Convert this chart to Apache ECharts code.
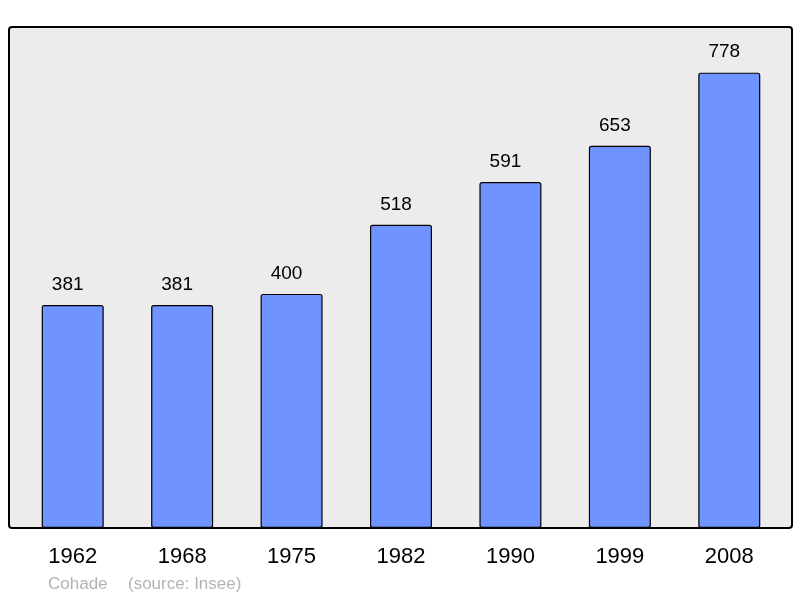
<!DOCTYPE html>
<html>
<head>
<meta charset="utf-8">
<script src="https://cdn.jsdelivr.net/npm/echarts@6/dist/echarts.min.js"></script>
<style>
html,body{margin:0;padding:0;background:#fff;}
#main{width:800px;height:598px;}
</style>
</head>
<body>
<div id="main"></div>
<script>
var years = ['1962','1968','1975','1982','1990','1999','2008'];
var population = [381, 381, 400, 518, 591, 653, 778];
var author = 'Cohade';
var source = '(source: Insee)';

var myChart = echarts.init(document.getElementById('main'));

var option = {
    animation: false,
    textStyle: { fontFamily: 'Liberation Sans, Arial, sans-serif' },
    graphic: [
        {
            type: 'rect',
            z: -10,
            shape: { x: 9, y: 27, width: 783, height: 501, r: 3 },
            style: { fill: '#ececec', stroke: '#000', lineWidth: 2 }
        },
        {
            type: 'text',
            left: 48,
            top: 576,
            style: { text: author, fill: '#b3b3b3', fontSize: 17, fontFamily: 'Liberation Sans, Arial, sans-serif' }
        },
        {
            type: 'text',
            left: 128,
            top: 576,
            style: { text: source, fill: '#b3b3b3', fontSize: 17, fontFamily: 'Liberation Sans, Arial, sans-serif' }
        }
    ],
    grid: {
        left: 18,
        right: 16,
        top: 27,
        bottom: 70
    },
    xAxis: {
        type: 'category',
        data: years,
        axisLine: { show: false },
        axisTick: { show: false },
        axisLabel: { color: '#000', fontSize: 22, margin: 18 }
    },
    yAxis: {
        type: 'value',
        min: 0,
        max: 856,
        show: false,
        splitLine: { show: false }
    },
    series: [
        {
            type: 'bar',
            data: population,
            barWidth: 62,
            itemStyle: { color: '#7094ff', borderColor: '#000', borderWidth: 1.2, borderRadius: 2 },
            label: { show: true, position: 'top', distance: 11, offset: [-5, 0], color: '#000', fontSize: 19 }
        }
    ]
};

myChart.setOption(option, true);
</script>
</body>
</html>
